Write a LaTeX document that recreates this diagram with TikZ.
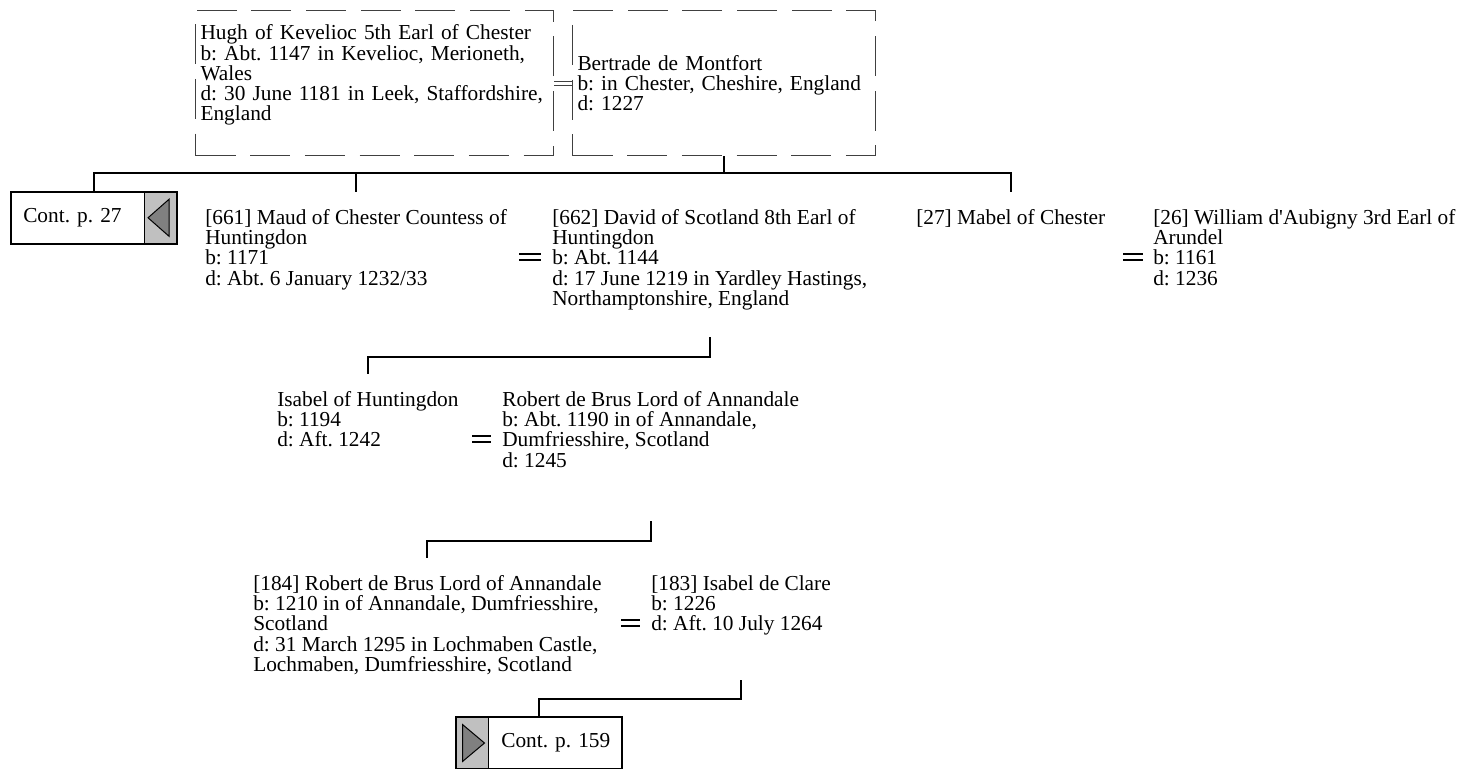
\documentclass[tikz,border=0pt]{standalone}
\usepackage{fontspec}
\setmainfont{Liberation Serif}
\usepackage{tikz}
\usetikzlibrary{positioning, fit}

\definecolor{tabgray}{HTML}{C0C0C0}
\definecolor{arrowgray}{HTML}{808080}
\frenchspacing

\begin{document}
\begin{tikzpicture}[
    x=0.75pt, y=-0.75pt,
    font=\fontsize{16pt}{15.2pt}\selectfont,
    person/.style={
        align=left,
        anchor=north west,
        inner xsep=0pt,
        inner ysep=12.75pt
    },
    spouse/.style={
        draw=black!75,
        dash pattern=on 30pt off 11pt,
        line width=0.75pt,
        align=left,
        anchor=north west,
        inner xsep=3.75pt,
        minimum height=108.75pt
    },
    contbox/.style={
        align=left,
        text width=81pt,
        inner xsep=9pt,
        inner ysep=0pt,
        minimum height=38.25pt
    },
    conttab/.style={
        draw,
        fill=tabgray,
        line width=0.75pt,
        inner sep=0pt,
        minimum width=24pt,
        minimum height=38.25pt
    },
    contframe/.style={
        draw,
        line width=1.5pt,
        inner sep=0pt
    },
    pointer/.style={
        draw,
        fill=arrowgray,
        line width=0.75pt
    },
    line/.style={
        line width=1.5pt
    },
    wed/.style={
        double,
        double distance=3.2pt,
        line width=1.5pt
    },
    wedthin/.style={
        draw=black!75,
        double,
        double distance=2.25pt,
        line width=0.75pt
    }
]
\useasboundingbox (0,0) rectangle (1459,768);

\node[spouse, text width=261pt] (hugh) at (195,10)
{Hugh of Kevelioc 5th Earl of Chester\\
b: Abt. 1147 in Kevelioc, Merioneth,\\
Wales\\
d: 30 June 1181 in Leek, Staffordshire,\\
England\\
\rule{0pt}{0pt}};

\node[spouse, text width=219.75pt] (bertrade) at (572,10)
{Bertrade de Montfort\\
b: in Chester, Cheshire, England\\
d: 1227};

\draw[wedthin] (hugh.east) -- (bertrade.west);

\node[contbox, anchor=north west] (c27) at (11,192) {\mbox{Cont. p. 27}};
\node[conttab, right=0pt of c27] (tab27) {};
\draw[pointer] ([shift={(-12,0)}]tab27.center) -- ([shift={(9,-18.5)}]tab27.center)
    -- ([shift={(9,18.5)}]tab27.center) -- cycle;
\node[contframe, fit=(c27)(tab27)] (cont27) {};

\node[person] (maud) at (205,192)
{[661] Maud of Chester Countess of\\
Huntingdon\\
b: 1171\\
d: Abt. 6 January 1232/33};

\node[person] (david) at (552,192)
{[662] David of Scotland 8th Earl of\\
Huntingdon\\
b: Abt. 1144\\
d: 17 June 1219 in Yardley Hastings,\\
Northamptonshire, England};

\node[person] (mabel) at (916,192)
{[27] Mabel of Chester};

\node[person] (william) at (1153,192)
{[26] William d\textquotesingle Aubigny 3rd Earl of\\
Arundel\\
b: 1161\\
d: 1236};

\draw[wed, shorten <=9pt, shorten >=8.25pt] (maud.east |- 0,257) -- (david.west |- 0,257);
\draw[wed, shorten >=7.5pt] ([xshift=-22.5pt]william.west |- 0,257) -- (william.west |- 0,257);

\coordinate (fam1) at (bertrade.south |- 0,173);
\draw[line] (bertrade.south) -- (fam1) -| (cont27.north);
\draw[line] (fam1) -| (maud.north);
\draw[line] (fam1) -| (mabel.north);

\node[person] (isabel) at (277,374)
{Isabel of Huntingdon\\
b: 1194\\
d: Aft. 1242};

\node[person] (robert) at (502,374)
{Robert de Brus Lord of Annandale\\
b: Abt. 1190 in of Annandale,\\
Dumfriesshire, Scotland\\
d: 1245};

\draw[wed, shorten >=8.25pt] ([xshift=-22.5pt]robert.west |- 0,439) -- (robert.west |- 0,439);

\coordinate (fam2) at (david.south |- 0,357);
\draw[line] (david.south |- 0,337) -- (fam2) -| (isabel.north);

\node[person] (bruce) at (253,558)
{[184] Robert de Brus Lord of Annandale\\
b: 1210 in of Annandale, Dumfriesshire,\\
Scotland\\
d: 31 March 1295 in Lochmaben Castle,\\
Lochmaben, Dumfriesshire, Scotland};

\node[person] (clare) at (651,558)
{[183] Isabel de Clare\\
b: 1226\\
d: Aft. 10 July 1264};

\draw[wed, shorten >=8.25pt] ([xshift=-22.5pt]clare.west |- 0,623) -- (clare.west |- 0,623);

\coordinate (fam3) at (robert.south |- 0,541);
\draw[line] (robert.south |- 0,521) -- (fam3) -| (bruce.north);

\node[conttab, anchor=north west] (tab159) at (456,717) {};
\node[contbox, right=0pt of tab159] (c159) {\mbox{Cont. p. 159}};
\draw[pointer] ([shift={(12,0)}]tab159.center) -- ([shift={(-10,-18.5)}]tab159.center)
    -- ([shift={(-10,18.5)}]tab159.center) -- cycle;
\node[contframe, fit=(tab159)(c159)] (cont159) {};

\coordinate (fam4) at (clare.south |- 0,699);
\draw[line] (clare.south |- 0,680) -- (fam4) -| (cont159.north);

\end{tikzpicture}
\end{document}
